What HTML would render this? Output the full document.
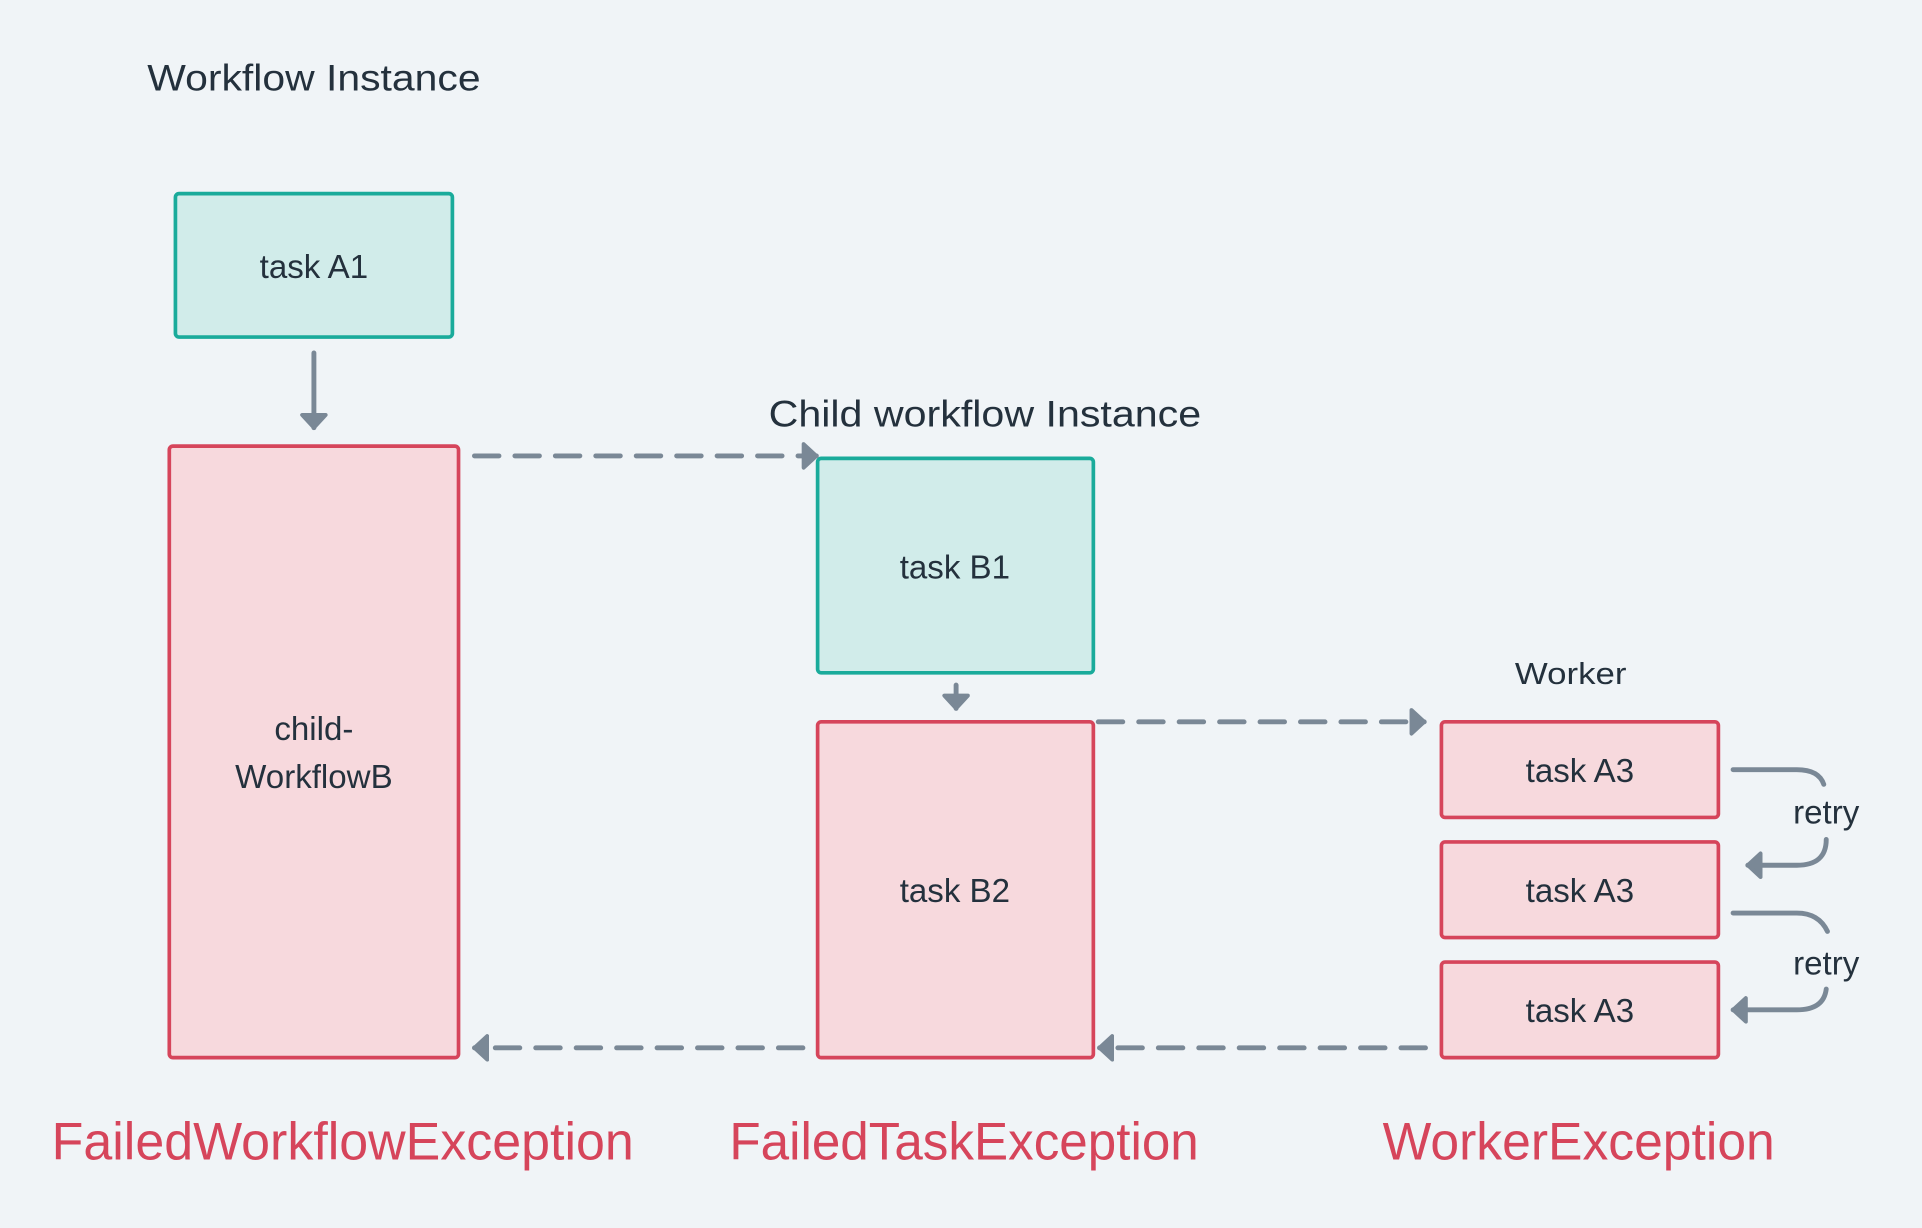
<!DOCTYPE html>
<html><head><meta charset="utf-8"><style>
html,body{margin:0;padding:0;background:#f0f4f7;}
svg{display:block}
text{font-family:"Liberation Sans",sans-serif;fill:#24313d}
</style></head><body>
<svg width="1922" height="1228" viewBox="0 0 1568 1002" xmlns="http://www.w3.org/2000/svg">
<rect width="1568" height="1002" fill="#f0f4f7"/>
<defs>
<marker id="ah" markerWidth="6" markerHeight="6" refX="3" refY="3" orient="auto" markerUnits="strokeWidth">
<path d="M0.4,0.6 L3,3 L0.4,5.4 Z" fill="#7a8896" stroke="#7a8896" stroke-width="0.8" stroke-linejoin="round"/>
</marker>
</defs>
<g>
<text x="120" y="74" font-size="30" textLength="272" lengthAdjust="spacingAndGlyphs">Workflow Instance</text>
<text x="627" y="348" font-size="30" textLength="353" lengthAdjust="spacingAndGlyphs">Child workflow Instance</text>
<text x="1236" y="558" font-size="25" textLength="91" lengthAdjust="spacingAndGlyphs">Worker</text>
</g>
<g stroke-width="3">
<rect x="143" y="158" width="226" height="117" rx="3" fill="#d1ecea" stroke="#1aab9b"/>
<rect x="667" y="374" width="225" height="175" rx="3" fill="#d1ecea" stroke="#1aab9b"/>
<rect x="138" y="364" width="236" height="499" rx="3" fill="#f7d9dd" stroke="#d6455b"/>
<rect x="667" y="589" width="225" height="274" rx="3" fill="#f7d9dd" stroke="#d6455b"/>
<rect x="1176" y="589" width="226" height="78" rx="3" fill="#f7d9dd" stroke="#d6455b"/>
<rect x="1176" y="687" width="226" height="78" rx="3" fill="#f7d9dd" stroke="#d6455b"/>
<rect x="1176" y="785" width="226" height="78" rx="3" fill="#f7d9dd" stroke="#d6455b"/>
</g>
<g font-size="27" text-anchor="middle">
<text x="256" y="227">task A1</text>
<text x="779" y="472">task B1</text>
<text x="779" y="736">task B2</text>
<text x="256" y="604">child-</text>
<text x="256" y="643">WorkflowB</text>
<text x="1289" y="638">task A3</text>
<text x="1289" y="736">task A3</text>
<text x="1289" y="834">task A3</text>
<text x="1490" y="672">retry</text>
<text x="1490" y="795">retry</text>
</g>
<g stroke="#7a8896" stroke-width="4" stroke-linecap="round" fill="none">
<line x1="256" y1="288" x2="256" y2="349" marker-end="url(#ah)"/>
<line x1="780" y1="559" x2="780" y2="578" marker-end="url(#ah)"/>
<line x1="387" y1="372" x2="666" y2="372" stroke-dasharray="20 13" marker-end="url(#ah)"/>
<line x1="896" y1="589" x2="1162" y2="589" stroke-dasharray="20 13" marker-end="url(#ah)"/>
<line x1="1163" y1="855" x2="897" y2="855" stroke-dasharray="20 13" marker-end="url(#ah)"/>
<line x1="655" y1="855" x2="387" y2="855" stroke-dasharray="20 13" marker-end="url(#ah)"/>
<path d="M1414,628 H1466 Q1484,628 1488,640"/>
<path d="M1490,685 Q1490,706 1466,706 H1426" marker-end="url(#ah)"/>
<path d="M1414,745 H1466 Q1484,745 1491,760"/>
<path d="M1490,807 Q1488,824 1466,824 H1414" marker-end="url(#ah)"/>
</g>
<g font-size="43">
<text x="42" y="946" textLength="475" lengthAdjust="spacingAndGlyphs" style="fill:#d6455b">FailedWorkflowException</text>
<text x="595" y="946" textLength="383" lengthAdjust="spacingAndGlyphs" style="fill:#d6455b">FailedTaskException</text>
<text x="1128" y="946" textLength="320" lengthAdjust="spacingAndGlyphs" style="fill:#d6455b">WorkerException</text>
</g>
</svg>
</body></html>
